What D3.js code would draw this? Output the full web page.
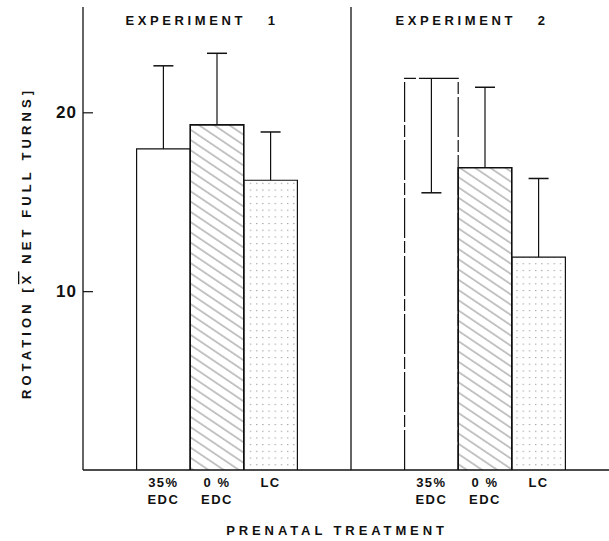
<!DOCTYPE html>
<html>
<head>
<meta charset="utf-8">
<script src="https://cdn.jsdelivr.net/npm/d3@7"></script>
<style>
  body { margin: 0; background: #fff; }
  svg { display: block; }
  text { font-family: "Liberation Sans", Arial, sans-serif; fill: #111; }
</style>
</head>
<body>
<svg id="chart" width="609" height="541"></svg>
<script>
// values
var experiments = ["EXPERIMENT   1", "EXPERIMENT   2"];
var treatments = ["35% EDC", "0% EDC", "LC"];
var treatmentLines = [["35%", "EDC"], ["0 %", "EDC"], ["LC"]];
var exp1Means = [17.95, 19.3, 16.2];
var exp2Means = [21.9, 16.9, 11.9];
// end point of each error bar (exp2 35% EDC is drawn downward)
var exp1ErrEnds = [22.6, 23.3, 18.9];
var exp2ErrEnds = [15.5, 21.4, 16.3];
var yTicks = [10, 20];

var svg = d3.select("#chart");
var defs = svg.append("defs");

// hatch for 0% EDC
var hatch = defs.append("pattern")
  .attr("id", "hatch")
  .attr("patternUnits", "userSpaceOnUse")
  .attr("width", 10).attr("height", 8.5)
  .attr("patternTransform", "rotate(34)");
hatch.append("line")
  .attr("x1", 0).attr("y1", 1).attr("x2", 10).attr("y2", 1)
  .attr("stroke", "#555").attr("stroke-width", 0.7);

// dots for LC
var dots = defs.append("pattern")
  .attr("id", "dots")
  .attr("patternUnits", "userSpaceOnUse")
  .attr("width", 6.2).attr("height", 6.7);
dots.append("rect")
  .attr("x", 2).attr("y", 2).attr("width", 1).attr("height", 1)
  .attr("fill", "#777");

var fills = ["#fff", "url(#hatch)", "url(#dots)"];

var y = d3.scaleLinear().domain([0, 26]).range([470, 5]);
var x0 = d3.scaleBand().domain(experiments).range([83, 619]);
var x1 = d3.scaleBand().domain(treatments).range([0, x0.bandwidth()])
  .paddingInner(0).paddingOuter(1);

var data = [];
experiments.forEach(function(e, i) {
  var means = i === 0 ? exp1Means : exp2Means;
  var ends = i === 0 ? exp1ErrEnds : exp2ErrEnds;
  treatments.forEach(function(t, j) {
    data.push({exp: e, ei: i, tr: t, ti: j, mean: means[j], end: ends[j]});
  });
});

// bars
var bars = svg.append("g").selectAll("g.bar")
  .data(data).enter().append("g").classed("bar", true);

bars.append("rect")
  .attr("x", function(d) { return x0(d.exp) + x1(d.tr); })
  .attr("y", function(d) { return y(d.mean); })
  .attr("width", x1.bandwidth())
  .attr("height", function(d) { return y(0) - y(d.mean); })
  .attr("fill", function(d) { return fills[d.ti]; })
  .attr("stroke", "none");

// bar outlines (top + sides)
bars.append("path")
  .attr("d", function(d) {
    var xl = x0(d.exp) + x1(d.tr), xr = xl + x1.bandwidth();
    return "M" + xl + "," + y(0) + "V" + y(d.mean) + "H" + xr + "V" + y(0);
  })
  .attr("fill", "none")
  .attr("stroke", "#111")
  .attr("stroke-width", function(d) { return d.ti === 1 ? 1.6 : 1.2; })
  .attr("stroke-dasharray", function(d) { return (d.ei === 1 && d.ti === 0) ? "40,3,12,3" : null; });

// error bars
var capW = 20;
bars.append("line")
  .attr("x1", function(d) { return x0(d.exp) + x1(d.tr) + x1.bandwidth() / 2; })
  .attr("x2", function(d) { return x0(d.exp) + x1(d.tr) + x1.bandwidth() / 2; })
  .attr("y1", function(d) { return y(d.mean); })
  .attr("y2", function(d) { return y(d.end); })
  .attr("stroke", "#111").attr("stroke-width", 1.2);
bars.append("line")
  .attr("x1", function(d) { return x0(d.exp) + x1(d.tr) + x1.bandwidth() / 2 - capW / 2; })
  .attr("x2", function(d) { return x0(d.exp) + x1(d.tr) + x1.bandwidth() / 2 + capW / 2; })
  .attr("y1", function(d) { return y(d.end); })
  .attr("y2", function(d) { return y(d.end); })
  .attr("stroke", "#111").attr("stroke-width", 1.5);

// category labels
bars.each(function(d) {
  var cx = x0(d.exp) + x1(d.tr) + x1.bandwidth() / 2;
  var t = d3.select(this).append("text")
    .attr("text-anchor", "middle")
    .attr("font-size", 13)
    .attr("font-weight", "bold")
    .attr("letter-spacing", 1.5)
    .attr("xml:space", "preserve")
    .style("white-space", "pre");
  treatmentLines[d.ti].forEach(function(s, k) {
    t.append("tspan").attr("x", cx).attr("y", 487 + k * 17).text(s);
  });
});

// y axis, ticks pointing inward
var yAxis = d3.axisLeft(y).tickValues(yTicks).tickSizeInner(-10).tickSizeOuter(0).tickPadding(6);
var ga = svg.append("g").attr("transform", "translate(83,0)").call(yAxis);
ga.select(".domain").remove();
ga.selectAll(".tick line").attr("stroke", "#111").attr("stroke-width", 1.2);
ga.selectAll(".tick text")
  .attr("font-size", 17).attr("font-weight", "bold")
  .attr("letter-spacing", 1)
  .attr("font-family", "Liberation Sans, Arial, sans-serif")
  .attr("fill", "#111");

svg.append("line")
  .attr("x1", 83).attr("x2", 83).attr("y1", 7).attr("y2", y(0))
  .attr("stroke", "#111").attr("stroke-width", 1.3);

// panel divider
svg.append("line")
  .attr("x1", x0(experiments[1])).attr("x2", x0(experiments[1]))
  .attr("y1", 7).attr("y2", y(0))
  .attr("stroke", "#111").attr("stroke-width", 1.3);

// baseline
svg.append("line")
  .attr("x1", 83).attr("x2", 609).attr("y1", y(0)).attr("y2", y(0))
  .attr("stroke", "#111").attr("stroke-width", 1.3);

// panel titles
svg.selectAll("text.exp")
  .data(experiments).enter().append("text")
  .classed("exp", true)
  .attr("x", function(d, i) { return x0(d) + x0.bandwidth() / 2 + (i === 0 ? -15 : -13); })
  .attr("y", 25)
  .attr("text-anchor", "middle")
  .attr("font-size", 13)
  .attr("font-weight", "bold")
  .attr("letter-spacing", 3.6)
  .attr("xml:space", "preserve")
  .style("white-space", "pre")
  .text(function(d) { return d; });

// axis titles
var yl = svg.append("text")
  .attr("transform", "translate(31,243) rotate(-90)")
  .attr("text-anchor", "middle")
  .attr("font-size", 13)
  .attr("font-weight", "bold")
  .attr("letter-spacing", 4.1)
  .attr("xml:space", "preserve")
  .style("white-space", "pre");
yl.append("tspan").text("ROTATION [");
yl.append("tspan").style("text-decoration", "overline").text("X");
yl.append("tspan").text(" NET FULL TURNS]");

svg.append("text")
  .attr("x", 337).attr("y", 535)
  .attr("text-anchor", "middle")
  .attr("font-size", 13)
  .attr("font-weight", "bold")
  .attr("letter-spacing", 3.9)
  .text("PRENATAL TREATMENT");
</script>
</body>
</html>
